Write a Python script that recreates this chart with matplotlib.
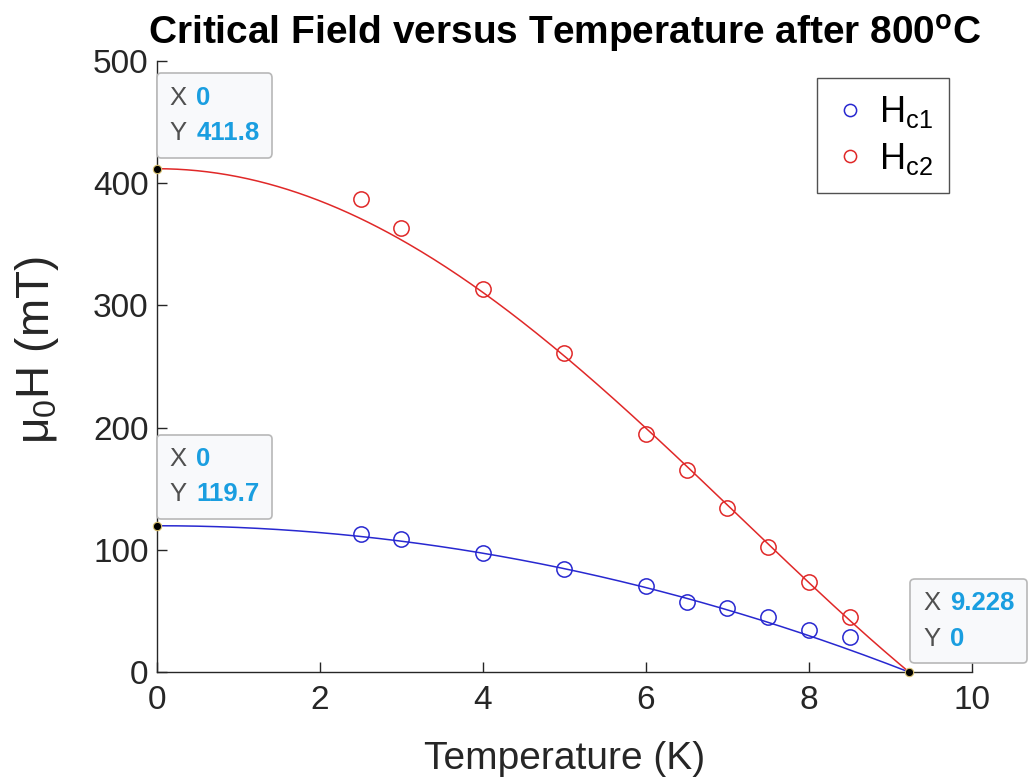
import numpy as np
from matplotlib import pyplot as plt
from matplotlib.offsetbox import AnnotationBbox, TextArea, HPacker, VPacker

plt.rcParams['font.family'] = ['Liberation Sans', 'DejaVu Sans']
plt.rcParams['mathtext.fontset'] = 'custom'
plt.rcParams['mathtext.rm'] = 'Liberation Sans'
plt.rcParams['mathtext.it'] = 'Liberation Sans'
plt.rcParams['mathtext.bf'] = 'Liberation Sans:bold'

# measured points
temps = [2.5, 3, 4, 5, 6, 6.5, 7, 7.5, 8, 8.5]
hc1 = [113, 109, 97, 84, 70, 57, 52, 45, 34, 29]
hc2 = [387, 363, 313, 261, 195, 165, 134, 102, 74, 45]

# fit parameters (from the data tips)
hc1_0 = 119.7
hc2_0 = 411.8
tc = 9.228
hc2_a = 1.38   # shape of the Hc2 fit curve

tips = [(0, 411.8), (0, 119.7), (9.228, 0)]
tip_labels = [('0', '411.8'), ('0', '119.7'), ('9.228', '0')]

red = '#e02828'
blue = '#2828d0'
txt = '#262626'

fig = plt.figure(figsize=(10.28, 7.82), dpi=100)
ax = fig.add_axes([0.1527, 0.1406, 0.7928, 0.7815])

tfit = np.linspace(0, tc, 300)
t2 = (tfit / tc) ** 2
ax.plot(tfit, hc1_0 * (1 - t2), color=blue, linewidth=1.1)
ax.plot(tfit, hc2_0 * (1 - hc2_a * t2 - (1 - hc2_a) * t2 ** 2), color=red, linewidth=1.1)
ax.plot(temps, hc1, 'o', mfc='none', mec=blue, ms=11, mew=1.1, label=r'H$_{\mathrm{c1}}$')
ax.plot(temps, hc2, 'o', mfc='none', mec=red, ms=11, mew=1.1, label=r'H$_{\mathrm{c2}}$')

ax.set_xlim(0, 10)
ax.set_ylim(0, 500)
ax.set_xticks([0, 2, 4, 6, 8, 10])
ax.set_yticks([0, 100, 200, 300, 400, 500])
for s in ['top', 'right']:
    ax.spines[s].set_visible(False)
for s in ['left', 'bottom']:
    ax.spines[s].set_color(txt)
    ax.spines[s].set_linewidth(1.0)
ax.tick_params(direction='in', length=7, width=1, colors=txt, labelsize=24, pad=6)
ax.tick_params(axis='x', pad=9)

ax.set_xlabel('Temperature (K)', fontsize=28, color=txt, labelpad=18)
ax.set_ylabel(r'$\mathrm{\mu_0}$H (mT)', fontsize=33, color=txt)
ax.yaxis.set_label_coords(-0.118, 0.527)
ax.set_title(r'Critical Field versus Temperature after 800$^\mathbf{o}$C',
             fontsize=28, fontweight='bold', pad=12)

leg = ax.legend(loc='upper right', bbox_to_anchor=(0.972, 0.972), borderaxespad=0,
                fontsize=26, fancybox=False, edgecolor=txt, handletextpad=0.32,
                handlelength=0.95, borderpad=0.45, labelspacing=0.3, markerscale=0.8)
leg.get_frame().set_linewidth(1.0)

# data tips
offsets = [(9, 17), (9, 14), (10, 15.5)]
for (x, y), (xs, ys), off in zip(tips, tip_labels, offsets):
    rows = []
    for name, val in [('X', xs), ('Y', ys)]:
        a = TextArea(name, textprops=dict(color='#505050', fontsize=18.5))
        b = TextArea(val, textprops=dict(color='#1a9ee0', fontsize=18.5, fontweight='bold'))
        rows.append(HPacker(children=[a, b], pad=0, sep=7, align='baseline'))
    box = VPacker(children=rows, pad=0, sep=8, align='left')
    ab = AnnotationBbox(box, (x, y), xybox=off, xycoords='data',
                        boxcoords='offset points', box_alignment=(0, 0),
                        frameon=True, annotation_clip=False,
                        bboxprops=dict(boxstyle='round,pad=0.9,rounding_size=0.3',
                                       ec='#b8b8b8', fc='#f8f9fb', lw=1.2))
    ax.add_artist(ab)
    ax.plot(x, y, 'o', ms=6, mfc='black', mec='#d8c070', mew=0.8, clip_on=False, zorder=5)

fig.savefig('out.png', dpi=100)
